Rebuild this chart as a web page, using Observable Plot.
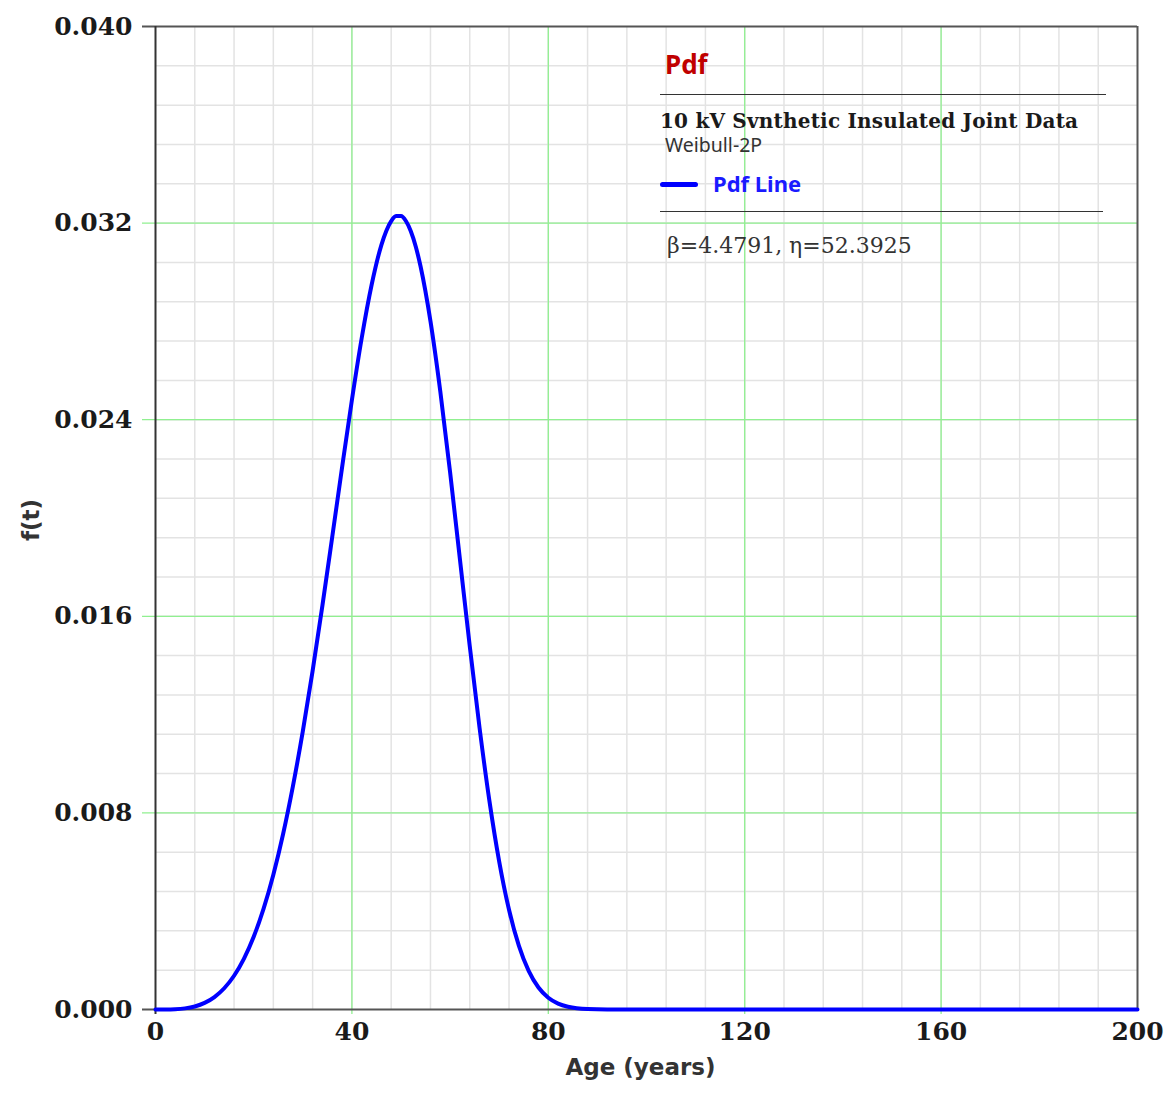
<!DOCTYPE html>
<html>
<head>
<meta charset="utf-8">
<script src="https://cdn.jsdelivr.net/npm/d3@7"></script>
<script src="https://cdn.jsdelivr.net/npm/@observablehq/plot@0.6"></script>
<style>
  html, body { margin: 0; padding: 0; background: #fff; }
  #wrap { position: relative; width: 1175px; height: 1093px; }
  #legend { position: absolute; left: 0; top: 0; width: 1175px; height: 1093px; pointer-events: none; }
  .lg { position: absolute; white-space: nowrap; }
  .hr { position: absolute; height: 0; border-top: 1.5px solid #333; }
</style>
</head>
<body>
<div id="wrap">
  <div id="chart"></div>
  <div id="legend"></div>
</div>
<script>
// ---- data ----
const ages = [0, 2, 4, 6, 8, 10, 12, 14, 16, 18, 20, 22, 24, 26, 28, 30, 32, 34, 36, 38, 40, 42, 44, 46, 47, 48, 49, 50, 51, 52, 53, 54, 56, 58, 60, 62, 64, 66, 68, 70, 72, 74, 76, 78, 80, 82, 84, 88, 92, 100, 140, 200];
const pdfValues = [0, 0.000001, 0.000011, 0.000046, 0.000124, 0.000269, 0.000507, 0.000864, 0.001373, 0.002060, 0.002958, 0.004093, 0.005486, 0.007152, 0.009100, 0.011318, 0.013782, 0.016444, 0.019235, 0.022060, 0.024801, 0.027325, 0.029471, 0.031106, 0.031682, 0.032080, 0.032285, 0.032289, 0.032084, 0.031670, 0.031050, 0.030223, 0.028012, 0.025161, 0.021858, 0.018319, 0.014788, 0.011460, 0.008500, 0.006020, 0.004059, 0.002595, 0.001569, 0.000894, 0.000478, 0.000239, 0.000111, 0.000019, 0.000003, 0, 0, 0];

const xTicks = [0, 40, 80, 120, 160, 200];
const yTicks = [0, 0.008, 0.016, 0.024, 0.032, 0.040];
const xMinor = d3.range(8, 200, 8);
const yMinor = d3.range(1, 25).map(i => i * 0.0016);
const xMajorGrid = [40, 80, 120, 160];
const yMajorGrid = [0.008, 0.016, 0.024, 0.032];

const titleText = "Pdf";
const datasetName = "10 kV Svnthetic Insulated Joint Data";
const distName = "Weibull-2P";
const seriesName = "Pdf Line";
const paramsText = "β=4.4791, η=52.3925";
const xLabel = "Age (years)";
const yLabel = "f(t)";

const data = ages.map((t, i) => ({t, f: pdfValues[i]}));

const tickFont = "'DejaVu Serif', serif";
const labelFont = "'DejaVu Sans', sans-serif";
const legendFont = "'Noto Sans', 'DejaVu Sans', sans-serif";

const chart = Plot.plot({
  width: 1175,
  height: 1093,
  marginLeft: 155,
  marginRight: 38,
  marginTop: 26,
  marginBottom: 84,
  x: {domain: [0, 200]},
  y: {domain: [0, 0.04]},
  style: {background: "#fff", overflow: "visible"},
  marks: [
    Plot.ruleX(xMinor, {stroke: "#e3e3e3", strokeWidth: 1.5}),
    Plot.ruleY(yMinor, {stroke: "#e3e3e3", strokeWidth: 1.5}),
    Plot.ruleX(xMajorGrid, {stroke: "#90f090", strokeWidth: 1.3, insetBottom: -5}),
    Plot.ruleY(yMajorGrid, {stroke: "#90f090", strokeWidth: 1.3, insetLeft: -13}),
    Plot.ruleY([0, 0.04], {stroke: "#555", strokeWidth: 2, insetLeft: -13}),
    Plot.ruleX([0], {stroke: "#333", strokeWidth: 2, insetBottom: -5}),
    Plot.ruleX([200], {stroke: "#555", strokeWidth: 2}),
    Plot.line(data, {x: "t", y: "f", stroke: "#0000ff", strokeWidth: 4, curve: "monotone-x"}),
    Plot.axisX({ticks: xTicks, tickSize: 0, tickPadding: 13, tickFormat: d => String(d),
      fontFamily: tickFont, fontWeight: "bold", fontSize: 25, fill: "#1a1a1a", label: null}),
    Plot.axisY({ticks: yTicks, tickSize: 0, tickPadding: 23, tickFormat: d3.format(".3f"),
      fontFamily: tickFont, fontWeight: "bold", fontSize: 25, fill: "#1a1a1a", label: null}),
    Plot.text([xLabel], {frameAnchor: "bottom", dx: -6, dy: 65, fontFamily: labelFont, fontWeight: "bold", fontSize: 23, fill: "#333"}),
    Plot.text([yLabel], {frameAnchor: "left", textAnchor: "middle", dx: -124, dy: 2, rotate: -90, fontFamily: labelFont, fontWeight: "bold", fontSize: 23, fill: "#333"})
  ]
});
document.getElementById("chart").appendChild(chart);

// ---- legend overlay ----
const lg = document.getElementById("legend");
function addText(txt, left, top, css) {
  const d = document.createElement("div");
  d.className = "lg";
  d.textContent = txt;
  d.style.left = left + "px";
  d.style.top = top + "px";
  Object.assign(d.style, css);
  lg.appendChild(d);
}
function addRule(left, top, width, css) {
  const d = document.createElement("div");
  d.className = "hr";
  d.style.left = left + "px";
  d.style.top = top + "px";
  d.style.width = width + "px";
  Object.assign(d.style, css || {});
  lg.appendChild(d);
}
addText(titleText, 665, 51, {fontFamily: legendFont, fontWeight: "bold", fontSize: "26px", color: "#c00000", lineHeight: "1"});
addRule(660, 94, 446);
addText(datasetName, 660, 111, {fontFamily: tickFont, fontWeight: "bold", fontSize: "20px", color: "#1a1a1a", lineHeight: "1", letterSpacing: "0.2px"});
addText(distName, 665, 135, {fontFamily: legendFont, fontSize: "19.5px", color: "#333", lineHeight: "1"});
addRule(660, 182, 38, {borderTop: "5px solid #0000ff", borderRadius: "3px"});
addText(seriesName, 713, 172, {fontFamily: legendFont, fontWeight: "bold", fontSize: "22px", color: "#1a1aff", lineHeight: "1"});
addRule(660, 211, 443);
addText(paramsText, 667, 235, {fontFamily: tickFont, fontSize: "22px", color: "#333", lineHeight: "1"});
</script>
</body>
</html>
